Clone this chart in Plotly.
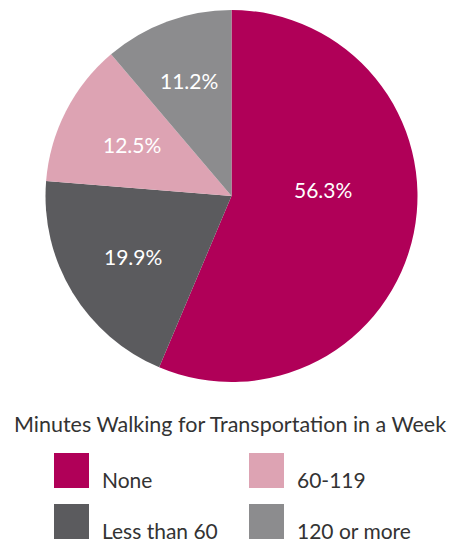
import math
import plotly.graph_objects as go

labels = ["None", "Less than 60", "60-119", "120 or more"]
values = [56.3, 19.9, 12.5, 11.2]
text_labels = ["56.3%", "19.9%", "12.5%", "11.2%"]
colors = ["#B00058", "#5B5B5E", "#DDA3B3", "#8C8C8E"]
legend_title = "Minutes Walking for Transportation in a Week"

W, H = 452, 542
FONT = "Lato"
PX0, PX1, PY0, PY1 = 45, 418, 10, 382  # pie box in pixels
fig = go.Figure(go.Pie(
    labels=labels, values=values, text=text_labels,
    textinfo="none",
    sort=False, direction="clockwise", rotation=0,
    marker=dict(colors=colors, line=dict(width=0)),
    domain=dict(x=[PX0 / W, PX1 / W], y=[1 - PY1 / H, 1 - PY0 / H]),
    showlegend=False, hoverinfo="label+text",
))

# slice labels placed inside each slice (radius fraction, position along slice arc)
cx, cy = (PX0 + PX1) / 2, (PY0 + PY1) / 2
R = (PX1 - PX0) / 2
label_r = [0.49, 0.62, 0.60, 0.66]
label_along = [0.425, 0.5, 0.5, 0.5]
total = sum(values)
ann = []
cum = 0.0
for v, t, fr, al in zip(values, text_labels, label_r, label_along):
    ang = (cum + v * al) / total * 2 * math.pi
    cum += v
    px = cx + fr * R * math.sin(ang)
    py = cy - fr * R * math.cos(ang)
    ann.append(dict(text=t, x=px / W, y=1 - py / H, xref="paper", yref="paper",
                    showarrow=False, xanchor="center", yanchor="middle",
                    font=dict(family=FONT, size=21, color="white")))

# custom legend
ann.append(dict(text=legend_title, x=229.5 / W, y=1 - 424 / H, xref="paper", yref="paper",
                showarrow=False, xanchor="center", yanchor="middle",
                font=dict(family=FONT, size=21.5, color="#333333")))
shapes = []
order = [(0, 54, 453), (2, 249, 453), (1, 54, 504), (3, 249, 504)]
for idx, x0, y0 in order:
    shapes.append(dict(type="rect", xref="paper", yref="paper",
                       x0=x0 / W, x1=(x0 + 35) / W, y0=1 - y0 / H, y1=1 - (y0 + 35) / H,
                       fillcolor=colors[idx], line=dict(width=0)))
    ann.append(dict(text=labels[idx], x=(x0 + 46) / W, y=1 - (y0 + 26) / H,
                    xref="paper", yref="paper", showarrow=False,
                    xanchor="left", yanchor="middle",
                    font=dict(family=FONT, size=21, color="#333333")))

fig.update_layout(
    width=W, height=H,
    margin=dict(l=0, r=0, t=0, b=0),
    paper_bgcolor="white", plot_bgcolor="white",
    annotations=ann, shapes=shapes,
)
fig.write_html("out.html", config={"displayModeBar": False},
               post_script="document.body.style.margin='0';")
